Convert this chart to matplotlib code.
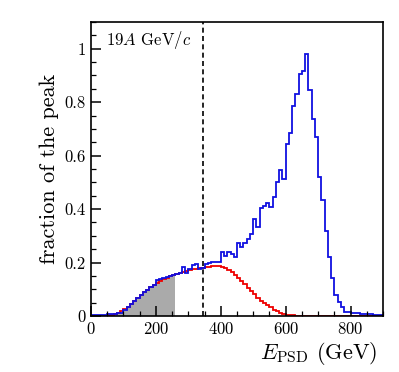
import matplotlib
matplotlib.use("Agg")
import matplotlib.pyplot as plt
import numpy as np
from matplotlib.ticker import MultipleLocator, FormatStrFormatter

plt.rcParams["font.family"] = "serif"
plt.rcParams["font.serif"] = ["cmr10"]
plt.rcParams["mathtext.fontset"] = "cm"
plt.rcParams["axes.formatter.use_mathtext"] = True

# bin edges in GeV (10 GeV bins)
edges = np.arange(0, 910, 10)

# measured E_PSD spectrum, normalised to the peak
blue = [0.002, 0.002, 0.002, 0.003, 0.003, 0.006, 0.007, 0.008, 0.010, 0.012,
        0.024, 0.033, 0.046, 0.058, 0.066, 0.079, 0.090, 0.098, 0.110, 0.116,
        0.134, 0.137, 0.141, 0.146, 0.150, 0.153, 0.157, 0.162, 0.185, 0.160,
        0.176, 0.190, 0.195, 0.175, 0.180, 0.196, 0.197, 0.201, 0.201, 0.202,
        0.241, 0.225, 0.241, 0.232, 0.222, 0.274, 0.260, 0.272, 0.288, 0.306,
        0.362, 0.334, 0.403, 0.413, 0.422, 0.409, 0.447, 0.503, 0.547, 0.514,
        0.645, 0.686, 0.784, 0.830, 0.905, 0.915, 0.980, 0.847, 0.737, 0.668,
        0.520, 0.435, 0.318, 0.220, 0.141, 0.079, 0.051, 0.035, 0.014, 0.014,
        0.010, 0.010, 0.012, 0.008, 0.008, 0.007, 0.006, 0.005, 0.004, 0.004]

# fitted background component
red = [0.0, 0.0, 0.0, 0.0, 0.0, 0.002, 0.004, 0.007, 0.012, 0.018,
       0.025, 0.035, 0.045, 0.056, 0.067, 0.078, 0.089, 0.099, 0.108, 0.117,
       0.124, 0.131, 0.137, 0.143, 0.148, 0.152, 0.157, 0.161, 0.165, 0.169,
       0.172, 0.175, 0.177, 0.179, 0.181, 0.183, 0.185, 0.186, 0.187, 0.186,
       0.183, 0.178, 0.172, 0.164, 0.154, 0.143, 0.131, 0.118, 0.106, 0.094,
       0.082, 0.069, 0.058, 0.048, 0.040, 0.032, 0.024, 0.017, 0.012, 0.008,
       0.005, 0.003, 0.002, 0.001, 0.001, 0.0, 0.0, 0.0, 0.0, 0.0,
       0.0, 0.0, 0.0, 0.0, 0.0, 0.0, 0.0, 0.0, 0.0, 0.0,
       0.0, 0.0, 0.0, 0.0, 0.0, 0.0, 0.0, 0.0, 0.0, 0.0]

nfill = 26      # shaded bins (up to 260 GeV)
cut = 345       # cut position, GeV

fig = plt.figure(figsize=(3.99, 3.72), dpi=100)
ax = fig.add_axes([0.228, 0.1505, 0.732, 0.7905])

ax.stairs(blue[:nfill], edges[:nfill + 1], fill=True, color="#aaaaaa", lw=0)
ax.stairs(red, edges, color="#ee0000", lw=1.3)
ax.stairs(blue, edges, color="#1010e0", lw=1.3)
ax.axvline(cut, color="k", ls=(0, (3, 2)), lw=1.2)

ax.text(0.05, 0.975, r"19$A$ GeV/$c$", transform=ax.transAxes,
        ha="left", va="top", fontsize=12)

ax.set_xlim(0, 900)
ax.set_ylim(0, 1.1)
ax.xaxis.set_major_locator(MultipleLocator(200))
ax.xaxis.set_minor_locator(MultipleLocator(50))
ax.yaxis.set_major_locator(MultipleLocator(0.2))
ax.yaxis.set_minor_locator(MultipleLocator(0.05))
ax.yaxis.set_major_formatter(FormatStrFormatter("%g"))
ax.tick_params(which="both", direction="in", top=False, right=False,
               labelsize=12)
ax.tick_params(which="major", length=7, width=1.1)
ax.tick_params(which="minor", length=3.5, width=0.9)
for s in ax.spines.values():
    s.set_linewidth(1.2)

ax.set_xlabel(r"$E_{\mathrm{PSD}}$ (GeV)", fontsize=16)
ax.xaxis.set_label_coords(0.98, -0.083, transform=ax.transAxes)
ax.xaxis.label.set_ha("right")
ax.set_ylabel("fraction of the peak", fontsize=16)

plt.savefig("out.png")
plt.close("all")
